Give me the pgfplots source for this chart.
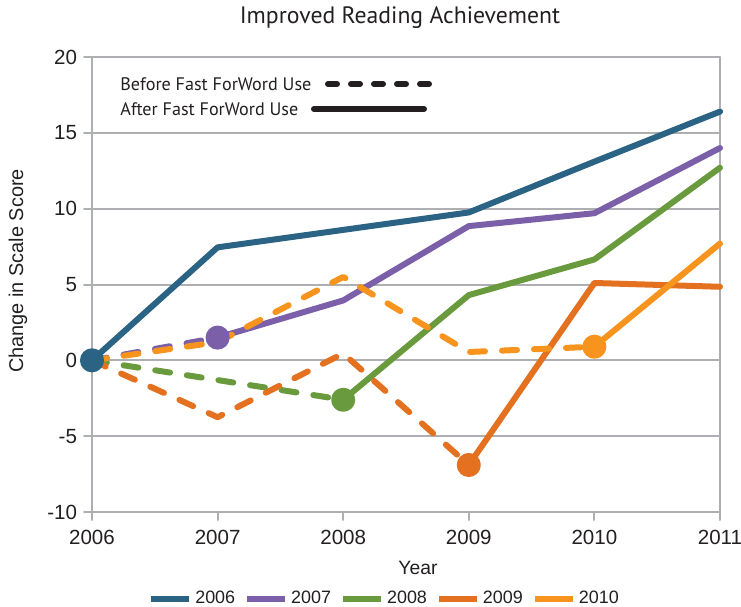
\documentclass[border=0pt]{standalone}
\usepackage{pgfplots}
\pgfplotsset{compat=1.18}
\usepackage{fontspec}
\setmainfont{Liberation Sans}
\newfontfamily\titlefont{PT Sans}
\definecolor{c06}{HTML}{2B6385}
\definecolor{c07}{HTML}{7B5FA9}
\definecolor{c08}{HTML}{6A9A3E}
\definecolor{c09}{HTML}{E3711F}
\definecolor{c10}{HTML}{F7941D}
\definecolor{gridgray}{HTML}{AEAFB2}
\definecolor{txt}{HTML}{231F20}
\begin{document}
\begin{tikzpicture}
\begin{axis}[
    scale only axis,
    width=314bp, height=227.5bp,
    xmin=2006, xmax=2011,
    ymin=-10, ymax=20,
    xtick={2006,2007,2008,2009,2010,2011},
    ytick={-10,-5,0,5,10,15,20},
    clip=false,
    axis line style={gridgray, line width=1bp},
    ymajorgrids,
    grid style={gridgray, line width=1bp},
    tick style={gridgray, line width=1bp},
    tick align=outside,
    major tick length=4bp,
    xtick pos=lower, ytick pos=left,
    /pgf/number format/1000 sep={},
    /pgf/number format/assume math mode=true,
    ticklabel style={font=\fontsize{10.3}{12}\selectfont, text=txt},
    xticklabel style={yshift=-1.5bp},
    line cap=round, line join=round,
    every axis plot/.append style={line width=3bp},
    dashed part/.style={dash pattern=on 7.5bp off 8.5bp},
    legend columns=5,
    legend style={at={(axis description cs:0.4666,-0.191)}, anchor=center,
        draw=none, fill=none, font=\fontsize{9}{11}\selectfont,
        text=txt, inner sep=0pt,
        nodes={inner sep=1.5bp}},
    /tikz/every even column/.append style={column sep=3bp},
    legend image code/.code={\draw[#1] (0bp,0bp) -- (19bp,0bp);},
]
% 2006
\addplot[c06] coordinates {(2006,0) (2007,7.45) (2008,8.6) (2009,9.75) (2010,13.1) (2011,16.4)};
\addlegendentry{2006}
\addplot[c06, only marks, mark=*, mark size=4.5bp, forget plot] coordinates {(2006,0)};
% 2007
\addplot[c07, dashed part, forget plot] coordinates {(2006,0) (2007,1.5)};
\addplot[c07] coordinates {(2007,1.5) (2008,3.95) (2009,8.85) (2010,9.7) (2011,14.0)};
\addlegendentry{2007}
\addplot[c07, only marks, mark=*, mark size=4.5bp, forget plot] coordinates {(2007,1.5)};
% 2008
\addplot[c08, dashed part, forget plot] coordinates {(2006,0) (2007,-1.3) (2008,-2.6)};
\addplot[c08] coordinates {(2008,-2.6) (2009,4.3) (2010,6.65) (2011,12.7)};
\addlegendentry{2008}
\addplot[c08, only marks, mark=*, mark size=4.5bp, forget plot] coordinates {(2008,-2.6)};
% 2009
\addplot[c09, dashed part, forget plot] coordinates {(2006,0) (2007,-3.75) (2008,0.45) (2009,-6.9)};
\addplot[c09] coordinates {(2009,-6.9) (2010,5.1) (2011,4.85)};
\addlegendentry{2009}
\addplot[c09, only marks, mark=*, mark size=4.5bp, forget plot] coordinates {(2009,-6.9)};
% 2010
\addplot[c10, dashed part, forget plot] coordinates {(2006,0) (2007,1.2) (2008,5.5) (2009,0.55) (2010,0.9)};
\addplot[c10] coordinates {(2010,0.9) (2011,7.7)};
\addlegendentry{2010}
\addplot[c10, only marks, mark=*, mark size=4.5bp, forget plot] coordinates {(2010,0.9)};
\end{axis}
% titles and labels (axis box lower left is at the origin)
\node[text=txt, font=\titlefont\fontsize{11.9}{14}\selectfont] at (154bp,247bp) {Improved Reading Achievement};
\node[text=txt, font=\fontsize{10}{12}\selectfont, rotate=90] at (-37bp,120.5bp) {Change in Scale Score};
\node[text=txt, font=\fontsize{9.7}{11}\selectfont] at (163bp,-28bp) {Year};
% line style key
\node[text=txt, anchor=west, font=\titlefont\fontsize{9.1}{11}\selectfont, inner sep=0pt] at (14bp,214bp) {Before Fast ForWord Use};
\node[text=txt, anchor=west, font=\titlefont\fontsize{9.1}{11}\selectfont, inner sep=0pt] at (14bp,201.5bp) {After Fast ForWord Use};
\draw[txt, line width=3bp, line cap=round, dash pattern=on 4.5bp off 7bp] (118bp,214bp) -- (173bp,214bp);
\draw[txt, line width=3bp, line cap=round] (111bp,201.5bp) -- (166bp,201.5bp);
\pgfresetboundingbox
\path (-46bp,-47.5bp) rectangle (324.5bp,256bp);
\end{tikzpicture}
\end{document}
